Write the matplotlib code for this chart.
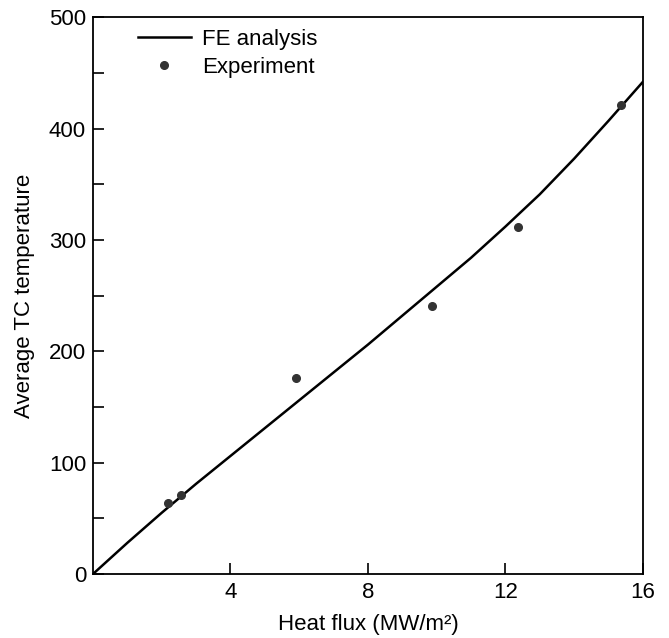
import matplotlib
matplotlib.use("Agg")
import matplotlib.pyplot as plt
from matplotlib.ticker import MultipleLocator

plt.rcParams['font.family'] = ['Liberation Sans', 'DejaVu Sans']

# FE analysis curve
fe_x = [0, 1, 2, 3, 4, 5, 6, 7, 8, 9, 10, 11, 12, 13, 14, 15, 16]
fe_y = [0, 28, 55, 81, 106, 131, 156, 181, 206, 232, 258, 284, 312, 341, 373, 407, 442]

# Experimental points
exp_x = [2.18, 2.56, 5.9, 9.85, 12.38, 15.36]
exp_y = [64, 71, 176, 241, 312, 421]

x_ticks = [4, 8, 12, 16]
y_ticks = [0, 100, 200, 300, 400, 500]

fig = plt.figure(figsize=(6.69, 6.38), dpi=100)
ax = fig.add_axes([0.139, 0.1003, 0.822, 0.8727])

ax.plot(fe_x, fe_y, color='black', lw=1.8, label='FE analysis')
ax.plot(exp_x, exp_y, 'o', color='#333333', ms=5.5, label='Experiment')

ax.set_xlim(0, 16)
ax.set_ylim(0, 500)
ax.set_xticks(x_ticks)
ax.set_yticks(y_ticks)
ax.yaxis.set_minor_locator(MultipleLocator(50))
ax.tick_params(axis='both', which='both', direction='in', labelsize=16,
               top=False, right=False)
ax.tick_params(axis='both', which='major', length=8, width=1.2)
ax.tick_params(axis='y', which='minor', length=8, width=1.2)
ax.tick_params(axis='x', pad=6)
ax.tick_params(axis='y', pad=5)
for s in ax.spines.values():
    s.set_linewidth(1.3)

ax.set_xlabel('Heat flux (MW/m²)', fontsize=16, labelpad=8)
ax.set_ylabel('Average TC temperature', fontsize=16, labelpad=10)

ax.legend(loc='upper left', frameon=False, fontsize=16, handlelength=2.4,
          bbox_to_anchor=(0.045, 1.015), handletextpad=0.5, labelspacing=0.3)

fig.savefig('out.png', dpi=100)
